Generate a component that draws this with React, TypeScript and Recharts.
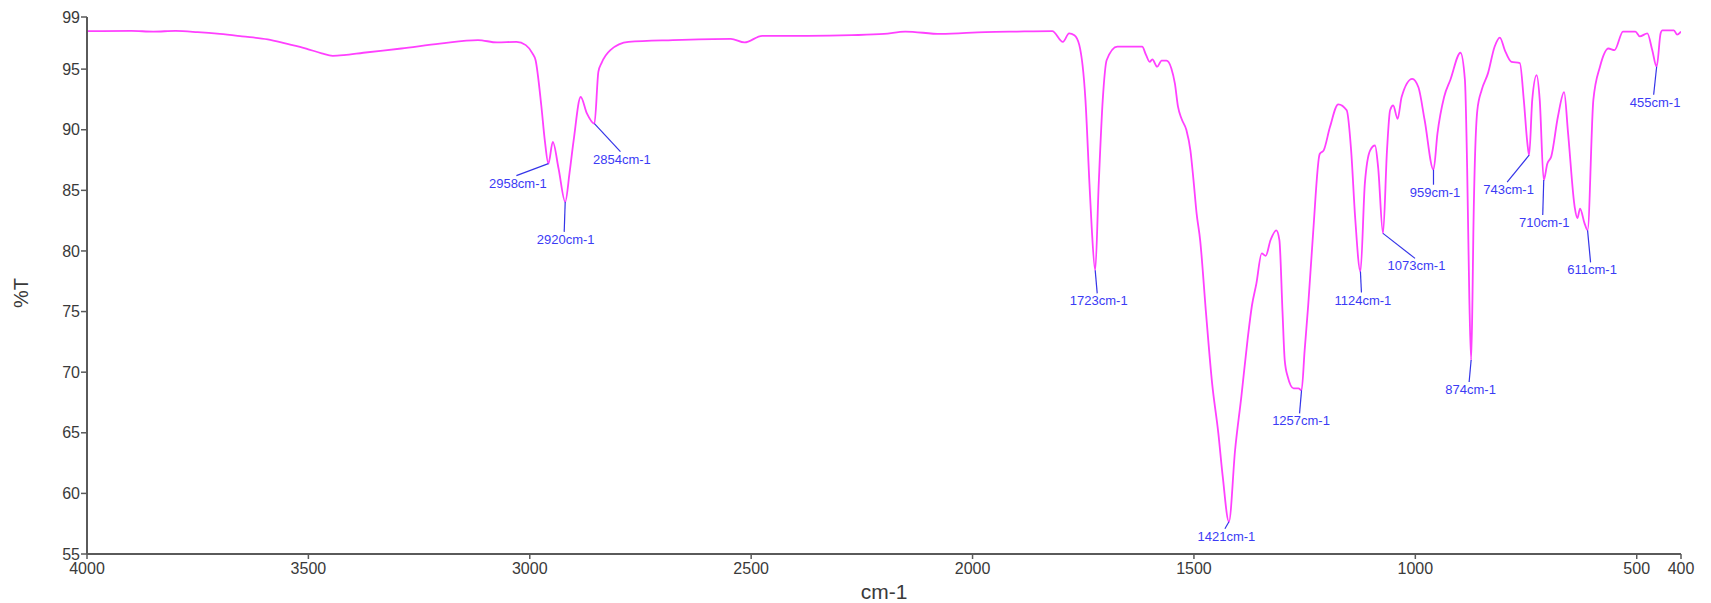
import React from 'react';
import { ComposedChart, Line, Scatter, XAxis, YAxis } from 'recharts';

// Wavenumbers (cm-1) of the traced spectrum
const wavenumbers = [
  4000, 3900, 3850, 3800, 3750, 3700, 3650, 3592, 3550, 3505, 3470, 3445, 3420, 3376, 3290, 3203, 3117, 3074, 3030, 3009,
  2994, 2987, 2974, 2966, 2958, 2948, 2935, 2920, 2910, 2901, 2885, 2871, 2854, 2845, 2838, 2818, 2777, 2677, 2546, 2515,
  2475, 2373, 2273, 2200, 2152, 2072, 1971, 1900, 1820, 1796, 1782, 1770, 1759, 1745, 1736, 1731, 1723, 1715, 1706, 1697,
  1673, 1617, 1608, 1600, 1594, 1583, 1573, 1562, 1551, 1543, 1536, 1528, 1517, 1508, 1501, 1494, 1486, 1473, 1459, 1445,
  1435, 1421, 1407, 1393, 1379, 1369, 1359, 1347, 1338, 1327, 1314, 1307, 1300, 1295, 1288, 1275, 1264, 1257, 1250, 1242,
  1231, 1216, 1207, 1193, 1174, 1155, 1145, 1136, 1124, 1114, 1102, 1091, 1084, 1073, 1064, 1057, 1050, 1040, 1031, 1007,
  993, 979, 959, 950, 935, 921, 898, 888, 883, 878, 874, 871, 869, 860, 850, 836, 821, 809, 798, 783,
  764, 755, 747, 743, 736, 726, 719, 710, 702, 693, 678, 664, 655, 640, 634, 628, 618, 611, 598, 583,
  564, 550, 531, 503, 493, 476, 465, 455, 446, 442, 416, 409, 400,
];

// Transmittance (%T) at each wavenumber
const transmittance = [
  98.13, 98.15, 98.1, 98.15, 98.05, 97.9, 97.7, 97.45, 97.1, 96.7, 96.3, 96.1, 96.15, 96.35, 96.7, 97.1, 97.4, 97.2, 97.25, 96.98,
  96.3, 95.75, 92.0, 89.1, 87.2, 89.0, 86.8, 84.05, 86.5, 89.1, 92.7, 91.35, 90.5, 94.8, 95.5, 96.57, 97.25, 97.4, 97.5, 97.2,
  97.75, 97.75, 97.8, 97.9, 98.1, 97.9, 98.06, 98.1, 98.13, 97.25, 97.95, 97.8, 97.0, 92.44, 85.57, 82.0, 78.4, 85.57, 92.44, 95.75,
  96.85, 96.85, 96.15, 95.6, 95.8, 95.2, 95.7, 95.7, 95.06, 93.8, 91.9, 90.9, 89.97, 88.3, 85.85, 83.1, 80.9, 75.0, 69.1, 65.0,
  61.4, 57.66, 63.6, 67.97, 72.65, 75.5, 77.3, 79.8, 79.6, 80.9, 81.7, 80.9, 75.0, 71.0, 69.6, 68.67, 68.67, 68.5, 71.8, 75.5,
  81.4, 88.0, 88.3, 90.2, 92.1, 91.6, 88.3, 82.8, 78.3, 85.57, 88.3, 88.7, 86.9, 81.45, 88.3, 91.6, 92.0, 90.9, 92.7, 94.2,
  93.5, 90.8, 86.7, 89.7, 92.7, 94.1, 96.35, 94.1, 86.9, 76.0, 71.0, 76.0, 81.4, 91.6, 93.3, 94.65, 96.85, 97.6, 96.57, 95.6,
  95.5, 92.44, 88.9, 87.9, 92.44, 94.5, 92.44, 85.85, 87.2, 87.8, 91.07, 93.1, 89.7, 83.6, 82.7, 83.5, 82.3, 81.7, 92.44, 95.2,
  96.7, 96.57, 98.1, 98.1, 97.7, 97.95, 96.57, 95.2, 97.95, 98.2, 98.2, 97.85, 98.1,
];

// Labelled peaks
const peakWavenumbers = [2958, 2920, 2854, 1723, 1421, 1257, 1124, 1073, 959, 874, 743, 710, 611, 455];
const peakTransmittance = [87.2, 84.05, 90.5, 78.4, 57.66, 68.5, 78.3, 81.45, 86.7, 71.0, 87.9, 85.85, 81.7, 95.2];

// Axis ticks
const xTicks = [4000, 3500, 3000, 2500, 2000, 1500, 1000, 500, 400];
const yTicks = [55, 60, 65, 70, 75, 80, 85, 90, 95, 99.3];

// Leader-line offsets (pixels) for each peak label, in the same order as peakWavenumbers
const leaderOffsets: [number, number][] = [
  [-32, 12], [-1, 30], [26, 28], [2, 23], [-4, 7], [-2, 23], [1, 21],
  [32, 25], [0, 15], [-2, 22], [-22, 27], [-1, 35], [3, 32], [-3, 28],
];

const spectrum = wavenumbers.map((wn, i) => ({ wn, t: transmittance[i] }));
const peaks = peakWavenumbers.map((wn, i) => ({ wn, t: peakTransmittance[i], idx: i }));

const FONT = '"Liberation Sans", Arial, sans-serif';

const PeakLabel = (props: any) => {
  const { cx, cy, payload } = props;
  if (cx == null || cy == null) return null;
  const [dx, dy] = leaderOffsets[payload.idx];
  const ex = cx + dx;
  const ey = cy + dy;
  return (
    <g>
      <line x1={cx} y1={cy} x2={ex} y2={ey} stroke="#3434e8" strokeWidth={1.2} />
      <text x={ex + 1.5} y={ey + 12} textAnchor="middle" fontSize={13} fontFamily={FONT} fill="#3b3bf5">
        {`${payload.wn}cm-1`}
      </text>
    </g>
  );
};

export default function App() {
  return (
    <div style={{ position: 'absolute', left: 0, top: 0, width: 1711, height: 603, background: '#fff' }}>
      <ComposedChart width={1711} height={603} margin={{ top: 17, right: 30, left: 0, bottom: 0 }}>
        <XAxis
          dataKey="wn"
          type="number"
          domain={[400, 4000]}
          reversed
          ticks={xTicks}
          interval={0}
          allowDataOverflow
          height={49}
          stroke="#5a5a5a"
          strokeWidth={2}
          tickSize={5}
          tickMargin={4}
          tick={{ fill: '#3a3a3a', fontSize: 16, fontFamily: FONT }}
          tickLine={{ stroke: '#5a5a5a', strokeWidth: 1.5 }}
          label={{
            content: (p: any) => {
              const vb = p.viewBox || {};
              return (
                <text x={vb.x + vb.width / 2} y={vb.y + 45} textAnchor="middle" fontSize={21} fontFamily={FONT} fill="#3a3a3a">
                  cm-1
                </text>
              );
            },
          }}
        />
        <YAxis
          dataKey="t"
          type="number"
          domain={[55, 99.3]}
          ticks={yTicks}
          interval={0}
          allowDataOverflow
          width={87}
          stroke="#5a5a5a"
          strokeWidth={2}
          tickSize={6}
          tickMargin={1}
          tickFormatter={(v: number) => String(Math.round(v))}
          tick={{ fill: '#3a3a3a', fontSize: 16, fontFamily: FONT }}
          tickLine={{ stroke: '#5a5a5a', strokeWidth: 1.5 }}
          label={{
            content: () => (
              <text x={28} y={293} transform="rotate(-90 28 293)" textAnchor="middle" fontSize={20} fontFamily={FONT} fill="#3a3a3a">
                %T
              </text>
            ),
          }}
        />
        <Line
          data={spectrum}
          dataKey="t"
          type="monotoneX"
          stroke="#ff40ff"
          strokeWidth={1.8}
          dot={false}
          activeDot={false}
          isAnimationActive={false}
        />
        <Scatter data={peaks} dataKey="t" shape={PeakLabel} isAnimationActive={false} />
      </ComposedChart>
    </div>
  );
}
